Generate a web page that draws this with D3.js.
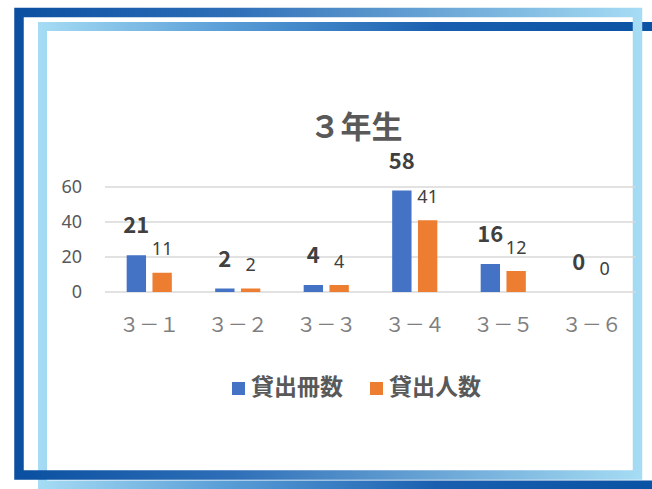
<!DOCTYPE html>
<html><head><meta charset="utf-8">
<script src="https://cdn.jsdelivr.net/npm/d3@7/dist/d3.min.js"></script>
<style>html,body{margin:0;padding:0;background:#fff;overflow:hidden}</style>
</head><body>
<svg id="c" width="652" height="489"></svg>
<script>
const categories = ["３－１","３－２","３－３","３－４","３－５","３－６"];
const seriesNames = ["貸出冊数","貸出人数"];
const booksLent = [21, 2, 4, 58, 16, 0];
const peopleLent = [11, 2, 4, 41, 12, 0];
const yTicks = [0, 20, 40, 60];
const colors = ["#4472c4", "#ed7d31"];

const svg = d3.select("#c");
const defs = svg.append("defs");
const gA = defs.append("linearGradient").attr("id","gA").attr("gradientUnits","userSpaceOnUse")
  .attr("x1",14).attr("x2",642).attr("y1",0).attr("y2",0);
gA.append("stop").attr("offset","0").attr("stop-color","#0a4fa0");
gA.append("stop").attr("offset","0.35").attr("stop-color","#2f6fb8");
gA.append("stop").attr("offset","1").attr("stop-color","#a6dcf4");
const gB = defs.append("linearGradient").attr("id","gB").attr("gradientUnits","userSpaceOnUse")
  .attr("x1",38).attr("x2",652).attr("y1",0).attr("y2",0);
gB.append("stop").attr("offset","0").attr("stop-color","#a6dcf4");
gB.append("stop").attr("offset","0.3").attr("stop-color","#5b9fd8");
gB.append("stop").attr("offset","0.65").attr("stop-color","#1a5faf");
gB.append("stop").attr("offset","1").attr("stop-color","#0a52a3");

// frames
svg.append("rect").attr("x",42.5).attr("y",26.5).attr("width",640).attr("height",458.5)
  .attr("fill","none").attr("stroke","url(#gB)").attr("stroke-width",9);
svg.append("rect").attr("x",19).attr("y",12.5).attr("width",618.5).attr("height",462.5)
  .attr("fill","none").attr("stroke","url(#gA)").attr("stroke-width",9.5);

const y = d3.scaleLinear().domain([0,60]).range([292,187]);
const x0 = d3.scaleBand().domain(categories).range([105,636]).paddingInner(0.49).paddingOuter(0.245);
const x1 = d3.scaleBand().domain(seriesNames).range([0, x0.bandwidth()]).paddingInner(0.25);

// gridlines
svg.append("g").selectAll("line").data(yTicks).join("line")
  .attr("x1",105).attr("x2",636).attr("y1",d=>y(d)).attr("y2",d=>y(d))
  .attr("stroke","#d9d9d9").attr("stroke-width",1.3);

// y axis
const yAxis = d3.axisLeft(y).tickValues(yTicks).tickSize(0).tickPadding(0);
const ya = svg.append("g").attr("transform","translate(82,0)").call(yAxis);
ya.select(".domain").remove();
ya.selectAll("text").attr("font-family","'Noto Sans', sans-serif").attr("font-size",18).attr("fill","#595959");

// x axis
const xAxis = d3.axisBottom(x0).tickSize(0).tickPadding(0);
const xa = svg.append("g").attr("transform","translate(0,318)").call(xAxis);
xa.select(".domain").remove();
xa.selectAll("text").attr("font-family","'Noto Sans CJK JP', sans-serif").attr("font-size",20).attr("fill","#7f7f7f").attr("dy","0.71em");

const data = categories.map((c,i)=>({c, vals:[booksLent[i], peopleLent[i]]}));
const groups = svg.append("g").selectAll("g").data(data).join("g")
  .attr("transform", d=>`translate(${x0(d.c)},0)`);
groups.selectAll("rect").data(d=>d.vals.map((v,j)=>({v, s:seriesNames[j], j}))).join("rect")
  .attr("x", d=>x1(d.s)).attr("width", x1.bandwidth())
  .attr("y", d=>y(d.v)).attr("height", d=>y(0)-y(d.v))
  .attr("fill", d=>colors[d.j]);

// labels
groups.selectAll("text").data(d=>d.vals.map((v,j)=>({v, s:seriesNames[j], j}))).join("text")
  .attr("x", d=>x1(d.s)+x1.bandwidth()/2)
  .attr("y", d=>y(d.v) - (d.j===0 ? 22 : 17.5))
  .attr("text-anchor","middle")
  .attr("font-family", d=> d.j===0 ? "'Noto Sans CJK JP', sans-serif" : "'Noto Sans', sans-serif")
  .attr("font-weight", d=> d.j===0 ? 700 : 400)
  .attr("font-size", d=> d.j===0 ? 22 : 18)
  .attr("fill","#404040")
  .text(d=>d.v);

// title
svg.append("text").attr("x",356).attr("y",138).attr("text-anchor","middle")
  .attr("font-family","'Noto Sans CJK JP', sans-serif").attr("font-weight",700)
  .attr("font-size",31).attr("fill","#595959").text("３年生");

// legend
const legX = [232, 370];
const leg = svg.append("g").selectAll("g").data(seriesNames).join("g")
  .attr("transform",(d,i)=>`translate(${legX[i]},0)`);
leg.append("rect").attr("x",0).attr("y",382).attr("width",13).attr("height",13).attr("fill",(d,i)=>colors[i]);
leg.append("text").attr("x",19).attr("y",395).attr("font-family","'Noto Sans CJK JP', sans-serif")
  .attr("font-weight",700).attr("font-size",23).attr("fill","#595959").text(d=>d);
</script>
</body></html>
